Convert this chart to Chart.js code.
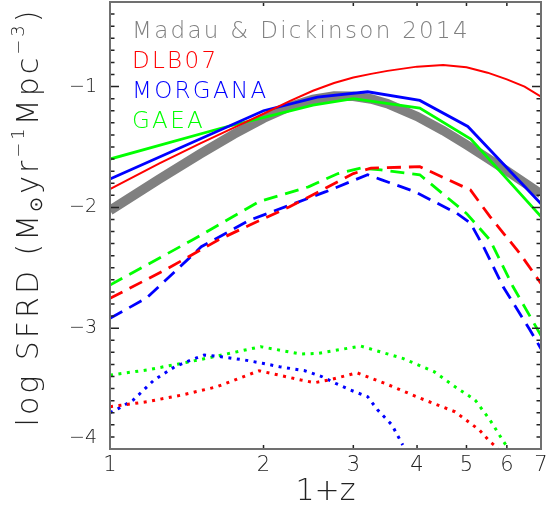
<!DOCTYPE html>
<html><head><meta charset="utf-8">
<script src="https://cdn.jsdelivr.net/npm/chart.js@4.4.1/dist/chart.umd.min.js"></script>
<style>html,body{margin:0;padding:0;background:#fff;}canvas{display:block;}</style>
</head><body>
<canvas id="c" width="549" height="512"></canvas>
<script>
// ---- axis ticks ----
const X_TICKS = [1, 2, 3, 4, 5, 6, 7];
const Y_TICKS = [-4, -3, -2, -1];

// ---- legend ----
const LEGEND_LABELS = ['Madau & Dickinson 2014', 'DLB07', 'MORGANA', 'GAEA'];
const LEGEND_COLORS = ['#808080', '#ff0000', '#0000ff', '#00ff00'];

// ---- Madau & Dickinson 2014 (grey band) ----
const MD14_X = [1, 1.25, 1.5, 1.75, 2, 2.25, 2.5, 2.75, 3, 3.25, 3.5, 4, 4.5, 5, 5.5, 6, 6.5, 7];
const MD14_Y = [-2.025, -1.766, -1.559, -1.393, -1.262, -1.167, -1.107, -1.079, -1.080, -1.103, -1.142, -1.247, -1.364, -1.482, -1.594, -1.698, -1.797, -1.888];

// ---- DLB07 (red) ----
const DLB07_TOT_X = [1, 1.25, 1.5, 1.75, 2, 2.25, 2.5, 2.75, 3, 3.25, 3.5, 4, 4.5, 5, 5.5, 6, 6.5, 7];
const DLB07_TOT_Y = [-1.848, -1.636, -1.473, -1.34, -1.225, -1.12, -1.035, -0.97, -0.925, -0.895, -0.87, -0.835, -0.822, -0.84, -0.885, -0.94, -1.0, -1.084];
const DLB07_DASH_X = [1, 1.28, 1.63, 1.88, 2.25, 2.65, 3.0, 3.25, 4.05, 5.09, 5.56, 6.36, 7];
const DLB07_DASH_Y = [-2.753, -2.52, -2.27, -2.146, -1.995, -1.84, -1.72, -1.675, -1.663, -1.856, -2.077, -2.38, -2.63];
const DLB07_DOT_X = [1, 1.18, 1.384, 1.62, 1.96, 2.37, 2.52, 2.69, 3.05, 3.46, 4.06, 4.75, 5.3, 5.56, 5.77];
const DLB07_DOT_Y = [-3.65, -3.609, -3.553, -3.485, -3.352, -3.429, -3.451, -3.429, -3.369, -3.457, -3.58, -3.692, -3.843, -3.94, -3.995];

// ---- MORGANA (blue) ----
const MORGANA_TOT_X = [1, 2, 2.55, 3.2, 4.05, 5.03, 7];
const MORGANA_TOT_Y = [-1.765, -1.20, -1.088, -1.043, -1.115, -1.33, -1.97];
const MORGANA_DASH_X = [1, 1.18, 1.51, 1.88, 2.65, 3.2, 3.4, 3.96, 4.79, 5.09, 5.4, 5.9, 6.66, 7];
const MORGANA_DASH_Y = [-2.918, -2.75, -2.326, -2.105, -1.87, -1.73, -1.77, -1.87, -2.05, -2.13, -2.326, -2.657, -3.015, -3.17];
const MORGANA_DOT_X = [1, 1.04, 1.11, 1.22, 1.34, 1.44, 1.53, 1.65, 1.84, 1.99, 2.15, 2.41, 2.6, 2.77, 2.96, 3.2, 3.35, 3.57, 3.75];
const MORGANA_DOT_Y = [-3.70, -3.664, -3.595, -3.429, -3.319, -3.264, -3.222, -3.236, -3.264, -3.29, -3.319, -3.352, -3.40, -3.457, -3.512, -3.567, -3.678, -3.80, -3.967];

// ---- GAEA (green) ----
const GAEA_TOT_X = [1, 1.65, 2.5, 3.0, 4.05, 5.1, 7];
const GAEA_TOT_Y = [-1.60, -1.345, -1.153, -1.10, -1.178, -1.435, -2.077];
const GAEA_DASH_X = [1, 1.45, 1.96, 2.45, 2.8, 3.1, 3.4, 4.05, 5.0, 5.56, 6.17, 7];
const GAEA_DASH_Y = [-2.643, -2.27, -1.953, -1.83, -1.72, -1.675, -1.69, -1.73, -2.05, -2.27, -2.657, -3.06];
const GAEA_DOT_X = [1, 1.18, 1.384, 1.62, 1.975, 2.37, 2.56, 3.1, 3.75, 4.32, 4.75, 5.2, 5.56, 5.83, 6.0];
const GAEA_DOT_Y = [-3.388, -3.346, -3.291, -3.231, -3.153, -3.214, -3.208, -3.148, -3.25, -3.36, -3.485, -3.595, -3.76, -3.898, -3.98];

const Y_TITLE = [
  {t: 'log SFRD (M', s: 30, dy: 0},
  {t: '⊙', s: 18, dy: 7},
  {t: 'yr', s: 30, dy: 0},
  {t: '−1', s: 18, dy: -11},
  {t: 'Mpc', s: 30, dy: 0},
  {t: '−3', s: 18, dy: -11},
  {t: ')', s: 30, dy: 0}
];

const FAMILY = '"DejaVu Sans", "Liberation Sans", sans-serif';
const WEIGHT = 200;
const INK = '#222';

function pts(xs, ys) { return xs.map((x, i) => ({x: x, y: ys[i]})); }

function solid(label, xs, ys, color, w, order) {
  return {label, data: pts(xs, ys), borderColor: color, backgroundColor: color, borderWidth: w,
          pointRadius: 0, tension: 0, fill: false, order};
}
function dashed(label, xs, ys, color) {
  const d = solid(label, xs, ys, color, 2.8, 3); d.borderDash = [14, 8]; return d;
}
function dotted(label, xs, ys, color) {
  const d = solid(label, xs, ys, color, 3, 4); d.borderDash = [3, 5.5]; return d;
}

const datasets = [
  solid('Madau & Dickinson 2014', MD14_X, MD14_Y, '#808080', 9.5, 10),
  solid('DLB07', DLB07_TOT_X, DLB07_TOT_Y, '#ff0000', 2, 1),
  solid('MORGANA', MORGANA_TOT_X, MORGANA_TOT_Y, '#0000ff', 2.8, 2),
  solid('GAEA', GAEA_TOT_X, GAEA_TOT_Y, '#00ff00', 2.8, 2),
  dashed('DLB07 dashed', DLB07_DASH_X, DLB07_DASH_Y, '#ff0000'),
  dashed('MORGANA dashed', MORGANA_DASH_X, MORGANA_DASH_Y, '#0000ff'),
  dashed('GAEA dashed', GAEA_DASH_X, GAEA_DASH_Y, '#00ff00'),
  dotted('DLB07 dotted', DLB07_DOT_X, DLB07_DOT_Y, '#ff0000'),
  dotted('MORGANA dotted', MORGANA_DOT_X, MORGANA_DOT_Y, '#0000ff'),
  dotted('GAEA dotted', GAEA_DOT_X, GAEA_DOT_Y, '#00ff00')
];

const framePlugin = {
  id: 'frame',
  afterDatasetsDraw(chart) {
    const {ctx, chartArea: a, scales: {x, y}} = chart;
    ctx.save();
    ctx.strokeStyle = INK; ctx.lineWidth = 1.5;
    ctx.beginPath();
    for (let i = -40; i <= -3; i++) {
      const py = y.getPixelForValue(i / 10);
      const len = (i % 10 === 0) ? 9 : 4.5;
      ctx.moveTo(a.left, py); ctx.lineTo(a.left + len, py);
      ctx.moveTo(a.right, py); ctx.lineTo(a.right - len, py);
    }
    X_TICKS.forEach(v => {
      const px = x.getPixelForValue(v);
      ctx.moveTo(px, a.bottom); ctx.lineTo(px, a.bottom - 4);
      ctx.moveTo(px, a.top); ctx.lineTo(px, a.top + 4);
    });
    ctx.stroke();
    ctx.strokeStyle = '#707070'; ctx.lineWidth = 2;
    ctx.strokeRect(a.left, a.top, a.right - a.left, a.bottom - a.top);
    ctx.restore();
  },
  afterDraw(chart) {
    const ctx = chart.ctx;
    ctx.save();
    // legend text
    ctx.textBaseline = 'alphabetic'; ctx.textAlign = 'left';
    ctx.font = WEIGHT + ' 23px ' + FAMILY;
    if ('letterSpacing' in ctx) ctx.letterSpacing = '2.3px';
    LEGEND_LABELS.forEach((t, i) => {
      ctx.fillStyle = LEGEND_COLORS[i];
      ctx.fillText(t, 132, 38 + 30 * i);
    });
    // y-axis title
    if ('letterSpacing' in ctx) ctx.letterSpacing = '3px';
    ctx.fillStyle = INK; ctx.textBaseline = 'middle';
    let total = 0;
    Y_TITLE.forEach(p => { ctx.font = WEIGHT + ' ' + p.s + 'px ' + FAMILY; p.w = ctx.measureText(p.t).width; total += p.w; });
    ctx.translate(30, 217);
    ctx.rotate(-Math.PI / 2);
    let cx = -total / 2;
    Y_TITLE.forEach(p => {
      ctx.font = WEIGHT + ' ' + p.s + 'px ' + FAMILY;
      ctx.fillText(p.t, cx, p.dy);
      cx += p.w;
    });
    ctx.restore();
  }
};

new Chart(document.getElementById('c'), {
  type: 'line',
  data: {datasets},
  plugins: [framePlugin],
  options: {
    responsive: false, animation: false, devicePixelRatio: 1,
    layout: {padding: {top: 2, right: 8, left: 0, bottom: 0}},
    plugins: {legend: {display: false}, tooltip: {enabled: false}},
    scales: {
      x: {
        type: 'logarithmic', min: 1, max: 7,
        grid: {display: false, drawTicks: false}, border: {display: false},
        ticks: {font: {family: FAMILY, size: 21, weight: WEIGHT}, color: INK, padding: 4,
                autoSkip: false, maxRotation: 0, callback: v => String(v)},
        afterBuildTicks: s => { s.ticks = X_TICKS.map(v => ({value: v})); },
        afterFit: s => { s.height = 63; s.paddingLeft = 0; s.paddingRight = 0; },
        title: {display: true, text: '1+z', color: INK,
                font: {family: FAMILY, size: 30, weight: WEIGHT}, padding: {top: 0, bottom: 2}}
      },
      y: {
        type: 'linear', min: -4, max: -0.3,
        grid: {display: false, drawTicks: false}, border: {display: false},
        ticks: {font: {family: FAMILY, size: 19, weight: WEIGHT}, color: INK, padding: 13,
                callback: v => (v === -4 ? ['−4', ''] : '−' + Math.abs(v))},
        afterBuildTicks: s => { s.ticks = Y_TICKS.map(v => ({value: v})); },
        afterFit: s => { s.width = 110; s.paddingTop = 0; s.paddingBottom = 0; }
      }
    }
  }
});
</script>
</body></html>
